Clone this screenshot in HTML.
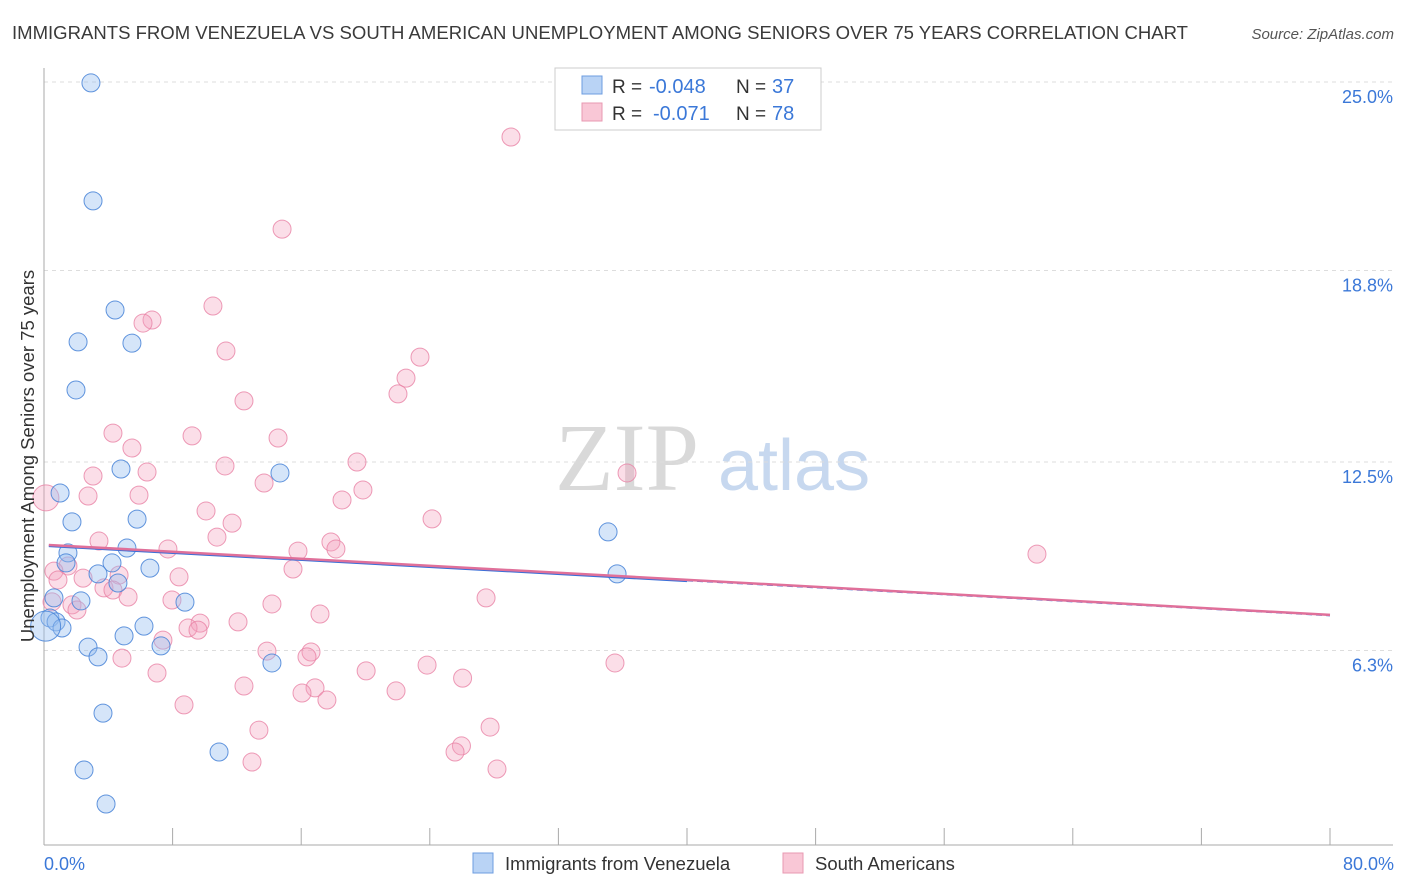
<!DOCTYPE html>
<html><head><meta charset="utf-8"><style>
body{margin:0;background:#fff;font-family:"Liberation Sans",sans-serif;}
svg{display:block}
</style></head><body>
<svg id="chart" width="1406" height="892" xmlns="http://www.w3.org/2000/svg">
<text x="12" y="39" font-size="18.5" fill="#3a3a3a" textLength="1176" lengthAdjust="spacingAndGlyphs">IMMIGRANTS FROM VENEZUELA VS SOUTH AMERICAN UNEMPLOYMENT AMONG SENIORS OVER 75 YEARS CORRELATION CHART</text>
<text x="1394" y="39" font-size="15" fill="#555" text-anchor="end" font-style="italic">Source: ZipAtlas.com</text>
<text x="555" y="490" font-size="96" font-family="Liberation Serif,serif" fill="#d9d9d9">ZIP</text>
<text x="718" y="490" font-size="72" fill="#c7d8ef">atlas</text>
<g id="grid"></g>
<g id="axes"></g>
<g id="pts"></g>
<g id="lines"></g>
<text transform="translate(34,456) rotate(-90)" font-size="18.5" fill="#333" text-anchor="middle">Unemployment Among Seniors over 75 years</text>
<text x="44" y="870" font-size="18" fill="#3b78d8">0.0%</text>
<text x="1394" y="870" font-size="18" fill="#3b78d8" text-anchor="end">80.0%</text>
<g>
<rect x="555" y="68" width="266" height="62" fill="#fff" stroke="#ccc"/>
<rect x="582" y="76" width="20" height="18" fill="#b9d3f5" stroke="#6d9de0"/>
<rect x="582" y="103" width="20" height="18" fill="#f9c7d6" stroke="#e898b2"/>
<text x="612" y="93" font-size="19" fill="#333">R =</text>
<text x="649" y="93" font-size="20" fill="#3b78d8">-0.048</text>
<text x="736" y="93" font-size="19" fill="#333">N =</text>
<text x="772" y="93" font-size="20" fill="#3b78d8">37</text>
<text x="612" y="120" font-size="19" fill="#333">R =</text>
<text x="653" y="120" font-size="20" fill="#3b78d8">-0.071</text>
<text x="736" y="120" font-size="19" fill="#333">N =</text>
<text x="772" y="120" font-size="20" fill="#3b78d8">78</text>
</g>
<g>
<rect x="473" y="853" width="20" height="20" fill="#b9d3f5" stroke="#6d9de0"/>
<text x="505" y="870" font-size="18.5" fill="#333">Immigrants from Venezuela</text>
<rect x="783" y="853" width="20" height="20" fill="#f9c7d6" stroke="#e898b2"/>
<text x="815" y="870" font-size="18.5" fill="#333">South Americans</text>
</g>
</svg>
<script>
const yTicks=[25.0,18.8,12.5,6.3];
const yTickLabels=["25.0%","18.8%","12.5%","6.3%"];
const xTicks=[0,8,16,24,32,40,48,56,64,72,80];
const blueX=[2.92,3.05,4.42,2.12,5.47,1.99,4.79,14.68,1.0,1.74,5.79,35.09,1.49,5.16,1.37,4.23,3.36,6.59,4.6,35.65,0.62,2.3,8.77,0.37,0.75,1.12,6.22,4.98,2.74,7.28,3.36,14.18,3.67,10.89,2.49,3.86,0.1];
const blueY=[24.97,21.09,17.5,16.45,16.41,14.87,12.27,12.14,11.48,10.53,10.62,10.2,9.51,9.67,9.18,9.18,8.82,9.01,8.52,8.82,8.03,7.93,7.89,7.37,7.24,7.04,7.1,6.78,6.41,6.45,6.09,5.89,4.24,2.96,2.37,1.25,7.1];
const pinkX=[29.05,14.81,10.51,6.72,6.16,11.32,23.39,22.52,22.02,12.44,4.29,9.21,14.56,5.47,19.47,11.26,36.27,3.05,6.41,13.69,19.84,2.74,5.91,18.54,0.12,10.08,24.14,11.7,10.76,3.42,17.85,7.71,15.8,18.16,61.77,1.49,0.62,15.49,8.4,2.43,4.67,0.87,3.73,4.29,5.23,27.5,7.96,14.18,1.74,2.05,17.17,12.07,9.71,8.96,9.58,7.4,13.87,16.61,16.36,4.85,23.83,35.52,20.04,7.03,26.04,12.44,16.86,16.05,21.9,17.6,8.71,27.75,13.37,25.97,25.57,12.94,28.18,0.5];
const pinkY=[23.19,20.16,17.63,17.17,17.07,16.15,15.95,15.26,14.74,14.51,13.45,13.36,13.29,12.96,12.5,12.37,12.14,12.04,12.17,11.81,11.58,11.38,11.41,11.25,11.32,10.89,10.63,10.49,10.03,9.9,9.87,9.64,9.57,9.64,9.47,9.08,8.91,8.98,8.72,8.68,8.78,8.62,8.36,8.29,8.06,8.03,7.96,7.83,7.8,7.63,7.5,7.24,7.2,7.04,6.97,6.64,6.28,6.25,6.09,6.05,5.82,5.89,5.63,5.56,5.39,5.13,5.07,4.9,4.97,4.67,4.51,3.78,3.68,3.16,2.96,2.63,2.4,7.9];
const blueTrend=[9.74,8.59];
const pinkTrend=[9.77,7.47];
const X=v=>44+v*16.075, Y=v=>842-v*30.4;
const NS="http://www.w3.org/2000/svg";
function mk(tag,attrs,parent){const e=document.createElementNS(NS,tag);for(const k in attrs)e.setAttribute(k,attrs[k]);document.getElementById(parent).appendChild(e);return e;}
yTicks.forEach((t,i)=>{
 const l=mk('line',{x1:44,x2:1393,y1:Y(t),y2:Y(t),stroke:'#ddd','stroke-dasharray':'4,4'},'grid');
 
 
 const tx=mk('text',{x:1393,y:Y(t)+21,'font-size':18,fill:'#3b78d8','text-anchor':'end'},'grid');tx.textContent=yTickLabels[i];
 
 
});
const ax=mk('line',{x1:44,x2:1393,y1:845,y2:845,stroke:'#aaa'},'axes');


const ay=mk('line',{x1:44,x2:44,y1:68,y2:845,stroke:'#aaa'},'axes');


xTicks.forEach(t=>{const l=mk('line',{x1:X(t),x2:X(t),y1:828,y2:845,stroke:'#aaa'},'axes');
 
 });
pinkX.forEach((v,i)=>{const big=v<0.2;const c=mk('circle',{cx:X(v),cy:Y(pinkY[i]),r:big?13:9,fill:'rgba(244,160,188,0.35)',stroke:'rgba(232,130,165,0.8)','stroke-width':1},'pts');
 
 });
blueX.forEach((v,i)=>{const big=v<0.2;const c=mk('circle',{cx:X(v),cy:Y(blueY[i]),r:big?15:9,fill:'rgba(150,190,240,0.4)',stroke:'rgba(70,130,215,0.85)','stroke-width':1},'pts');
 
 });
const bl=mk('line',{x1:X(0.3),y1:Y(blueTrend[0]),x2:X(40),y2:Y(blueTrend[1]),stroke:'#3a6fd8','stroke-width':2.5},'lines');


const slope=(blueTrend[1]-blueTrend[0])/40;
const bd=mk('line',{x1:X(40),y1:Y(blueTrend[1]),x2:X(80),y2:Y(blueTrend[1]+slope*40),stroke:'#3a6fd8','stroke-width':1,'stroke-dasharray':'6,4'},'lines');


const pl=mk('line',{x1:X(0.3),y1:Y(pinkTrend[0]),x2:X(80),y2:Y(pinkTrend[1]),stroke:'#e0709a','stroke-width':2.5},'lines');


</script>
</body></html>
